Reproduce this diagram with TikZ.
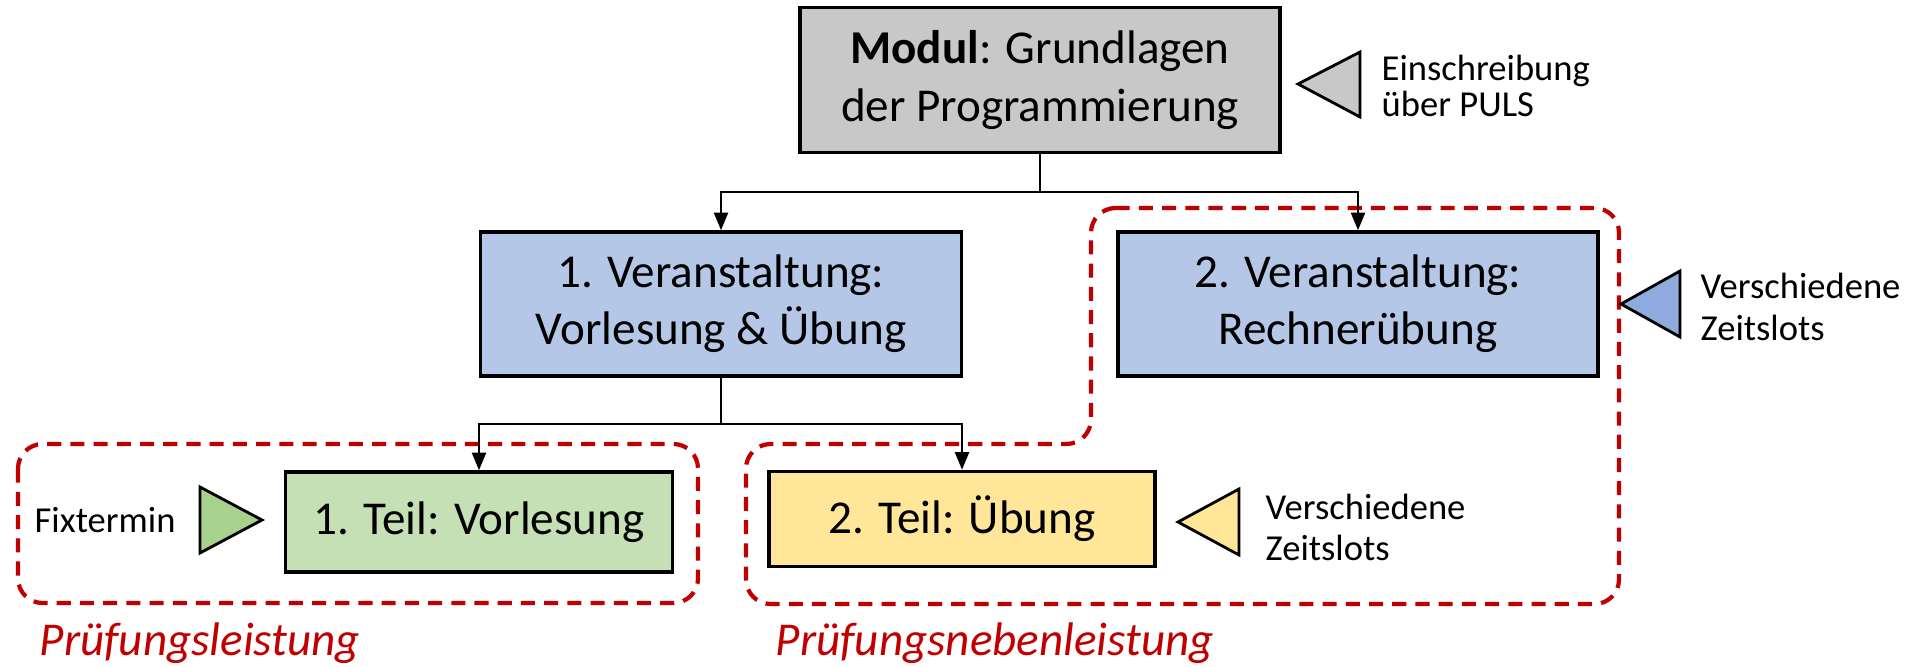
\documentclass[tikz,border=0pt]{standalone}
\usepackage{fontspec}
\setmainfont{Carlito}
\usepackage{xcolor}
\usepackage{tikz}
\usetikzlibrary{shapes,arrows,positioning,calc,arrows.meta}

\definecolor{modgray}{RGB}{200,200,200}
\definecolor{vablue}{RGB}{180,199,231}
\definecolor{triblue}{RGB}{143,170,220}
\definecolor{teilgreen}{RGB}{197,224,180}
\definecolor{trigreen}{RGB}{169,209,142}
\definecolor{teilyellow}{RGB}{255,230,153}
\definecolor{pruefred}{RGB}{192,0,0}

\begin{document}
\begin{tikzpicture}[x=0.01cm, y=-0.01cm,
    box/.style={draw, line width=1pt, inner sep=0pt, align=center, font=\fontsize{13.4}{16.3}\selectfont},
    conn/.style={line width=0.6pt, -{Triangle[length=5pt,width=4pt]}},
    group/.style={draw=pruefred, line width=1.2pt, dash pattern=on 4pt off 2.6pt, rounded corners=7pt},
    tri/.style={draw, line width=0.8pt},
    note/.style={anchor=west, align=left, inner sep=0pt, font=\fontsize{10.4}{11.7}\selectfont},
    pruef/.style={text=pruefred, inner sep=0pt, font=\fontsize{13.4}{16}\selectfont\itshape}]
    \useasboundingbox (0,0) rectangle (1907,667);

    \draw[group] (18,444) rectangle (698,603);
    \draw[group] (1091,208) -- (1619,208) -- (1619,604) -- (746,604) -- (746,444) -- (1091,444) -- cycle;

    \node[box, fill=modgray, minimum width=4.8cm, minimum height=1.45cm] (modul) at (1040,80) {\textbf{Modul}: Grundlagen\\der Programmierung};
    \node[box, fill=vablue, minimum width=4.81cm, minimum height=1.44cm] (va1) at (721,304) {1. Veranstaltung:\\Vorlesung \& Übung};
    \node[box, fill=vablue, minimum width=4.8cm, minimum height=1.44cm] (va2) at (1358,304) {2. Veranstaltung:\\Rechnerübung};
    \node[box, fill=teilgreen, minimum width=3.87cm, minimum height=1cm] (teil1) at (479,522) {1. Teil: Vorlesung};
    \node[box, fill=teilyellow, minimum width=3.86cm, minimum height=0.95cm] (teil2) at (962,519) {2. Teil: Übung};

    \coordinate (split1) at (1040,192);
    \coordinate (split2) at (721,424);
    \draw[line width=0.6pt] (modul.south) -- (split1);
    \draw[conn] (split1) -| (va1.north);
    \draw[conn] (split1) -| (va2.north);
    \draw[line width=0.6pt] (va1.south) -- (split2);
    \draw[conn] (split2) -| (teil1.north);
    \draw[conn] (split2) -| (teil2.north);

    \draw[tri, fill=modgray] (1298,84) -- (1360,52) -- (1360,117) -- cycle;
    \draw[tri, fill=triblue] (1621,304) -- (1680,271) -- (1680,337) -- cycle;
    \draw[tri, fill=trigreen] (262,520) -- (200,487) -- (200,553) -- cycle;
    \draw[tri, fill=teilyellow] (1178,522) -- (1239,489) -- (1239,555) -- cycle;

    \node[note, font=\fontsize{10.4}{9}\selectfont] (einschr) at (1381,86) {Einschreibung\\über PULS};
    \node[note] (zeit1) at (1700,307) {Verschiedene\\Zeitslots};
    \node[note] (zeit2) at (1265,527) {Verschiedene\\Zeitslots};
    \node[note] (fix) at (34,520) {Fixtermin};
    \node[pruef, anchor=base west] (pl) at (39,655) {Prüfungsleistung};
    \node[pruef, anchor=base west] (pnl) at (775,655) {Prüfungsnebenleistung};
\end{tikzpicture}
\end{document}
